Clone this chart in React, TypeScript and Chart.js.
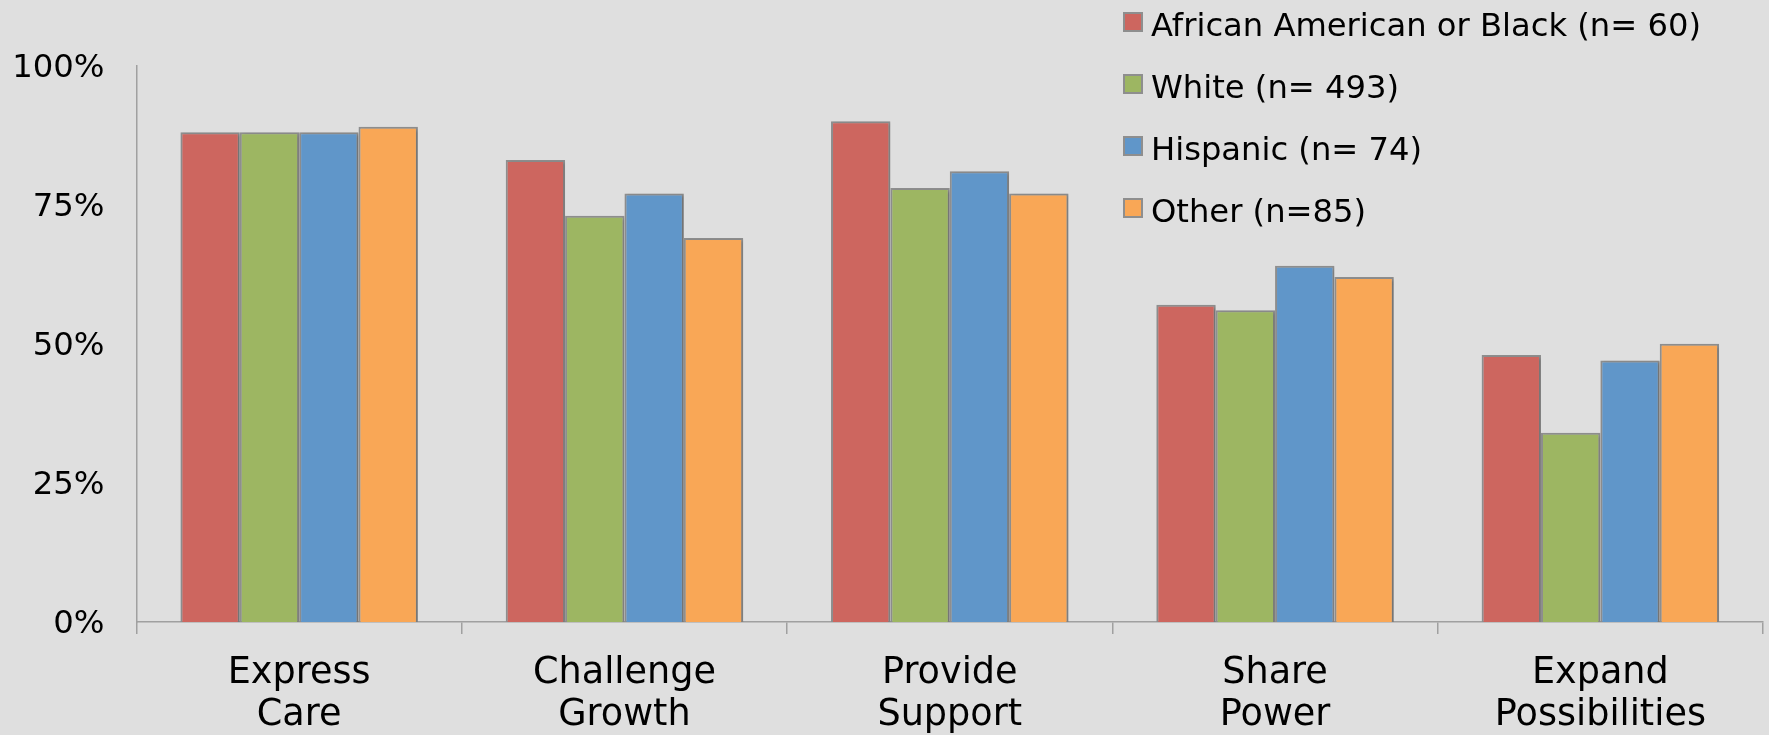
import React, { useEffect, useRef } from 'react';
import { Chart, registerables } from 'chart.js';

Chart.register(...registerables);

// Categories (two-line labels) and the share of each group per category, in %
const categories: string[][] = [
  ['Express', 'Care'],
  ['Challenge', 'Growth'],
  ['Provide', 'Support'],
  ['Share', 'Power'],
  ['Expand', 'Possibilities'],
];
const seriesNames = [
  'African American or Black (n= 60)',
  'White (n= 493)',
  'Hispanic (n= 74)',
  'Other (n=85)',
];
const africanAmerican = [88, 83, 90, 57, 48];
const white = [88, 73, 78, 56, 34];
const hispanic = [88, 77, 81, 64, 47];
const other = [89, 69, 77, 62, 50];
const yTickValues = [0, 25, 50, 75, 100];

const seriesColors = ['#cd665f', '#9db662', '#6096c9', '#f9a756'];
const BG = '#dfdfdf';
const BAR_BORDER = '#8e8e8e';
const AXIS = '#a0a0a0';
const FONT = '"DejaVu Sans", Verdana, sans-serif';

const W = 1769;
const H = 735;

// Draws the stacked legend in the upper right corner, overlapping the plot
const cornerLegend = {
  id: 'cornerLegend',
  afterDraw(chart: any) {
    const ctx = chart.ctx as CanvasRenderingContext2D;
    ctx.save();
    ctx.font = `32.2px ${FONT}`;
    ctx.textBaseline = 'alphabetic';
    ctx.textAlign = 'left';
    chart.data.datasets.forEach((ds: any, i: number) => {
      const top = 13 + i * 62;
      ctx.fillStyle = ds.backgroundColor;
      ctx.fillRect(1124, top, 18, 18);
      ctx.strokeStyle = BAR_BORDER;
      ctx.lineWidth = 2;
      ctx.strokeRect(1124, top, 18, 18);
      ctx.fillStyle = '#000';
      ctx.fillText(ds.label, 1151, top + 22.5);
    });
    ctx.restore();
  },
};

// Soft drop shadow to the lower right of every bar
const barShadow = {
  id: 'barShadow',
  beforeDatasetsDraw(chart: any) {
    const ctx = chart.ctx as CanvasRenderingContext2D;
    ctx.save();
    ctx.shadowColor = 'rgba(0,0,0,0.22)';
    ctx.shadowBlur = 3;
    ctx.shadowOffsetX = 2;
    ctx.shadowOffsetY = 1;
  },
  afterDatasetsDraw(chart: any) {
    chart.ctx.restore();
  },
};

export default function App() {
  const canvasRef = useRef<HTMLCanvasElement | null>(null);

  useEffect(() => {
    document.body.style.margin = '0';
    document.body.style.background = BG;
    const canvas = canvasRef.current!;
    const values = [africanAmerican, white, hispanic, other];

    const chart = new Chart(canvas, {
      type: 'bar',
      data: {
        labels: categories,
        datasets: seriesNames.map((name, i) => ({
          label: name,
          data: values[i],
          backgroundColor: seriesColors[i],
          borderColor: BAR_BORDER,
          borderWidth: 2,
          categoryPercentage: 0.73,
          barPercentage: 1,
        })),
      },
      options: {
        responsive: false,
        animation: false,
        devicePixelRatio: 1,
        layout: { padding: { top: 65.5, right: 6, left: 0, bottom: 0 } },
        plugins: {
          legend: { display: false },
          tooltip: { enabled: false },
        },
        scales: {
          x: {
            offset: true,
            grid: {
              display: true,
              offset: true,
              drawOnChartArea: false,
              drawTicks: true,
              tickLength: 12,
              color: AXIS,
              lineWidth: 1.5,
            },
            border: { display: true, color: AXIS, width: 1.5 },
            ticks: {
              color: '#000',
              padding: 19,
              maxRotation: 0,
              autoSkip: false,
              font: { family: FONT, size: 36.6, lineHeight: 1.14 },
            },
            afterFit(scale: any) {
              scale.height = H - 622;
            },
          },
          y: {
            min: 0,
            max: 100,
            afterBuildTicks(scale: any) {
              scale.ticks = yTickValues.map((v) => ({ value: v }));
            },
            grid: { display: false, drawTicks: false },
            border: { display: true, color: AXIS, width: 1.5 },
            ticks: {
              color: '#000',
              padding: 32,
              labelOffset: 3,
              font: { family: FONT, size: 32.3 },
              callback: (v: any) => `${v}%`,
            },
            afterFit(scale: any) {
              scale.width = 136.5;
            },
          },
        },
      },
      plugins: [barShadow, cornerLegend],
    });

    return () => chart.destroy();
  }, []);

  return (
    <div style={{ position: 'fixed', left: 0, top: 0, width: W, height: H, background: BG }}>
      <canvas ref={canvasRef} width={W} height={H} style={{ display: 'block' }} />
    </div>
  );
}
